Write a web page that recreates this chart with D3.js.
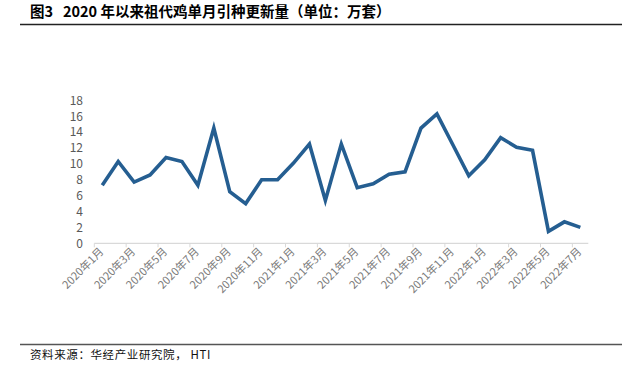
<!DOCTYPE html>
<html>
<head>
<meta charset="utf-8">
<script src="https://cdn.jsdelivr.net/npm/d3@7"></script>
<style>
	body { margin: 0; background: #fff; }
	svg text { font-family: "Noto Sans CJK SC", "Noto Sans", sans-serif; white-space: pre; }
</style>
</head>
<body>
<svg id="chart" width="634" height="375"></svg>
<script>
const years = [2020, 2021, 2022];
const months = [];
years.forEach(y => {
	for (let m = 1; m <= 12; ++m) {
		if (y === 2022 && m > 7) break;
		months.push(`${y}年${m}月`);
	}
});
// 万套
const values = [7.3, 10.3, 7.7, 8.6, 10.8, 10.3, 7.3, 14.5, 6.5, 5.0, 8.0, 8.0, 10.1, 12.5, 5.4,
	12.5, 7.0, 7.5, 8.7, 9.0, 14.5, 16.3, 12.4, 8.5, 10.5, 13.3, 12.1, 11.7, 1.5, 2.7, 2.0];
const yTicks = [0, 2, 4, 6, 8, 10, 12, 14, 16, 18];

const title = '图3   2020 年以来祖代鸡单月引种更新量（单位：万套）';
const source = '资料来源：华经产业研究院， HTI';

function chart() {
	let svg = d3.select('#chart');

	// title and frame lines
	svg.append('text')
		.attr('x', 30).attr('y', 17)
		.attr('font-size', 14.5).attr('font-weight', 'bold').attr('fill', '#000')
		.text(title);
	svg.append('line')
		.attr('x1', 20).attr('x2', 622).attr('y1', 24.5).attr('y2', 24.5)
		.attr('stroke', '#222').attr('stroke-width', 1.3);
	svg.append('line')
		.attr('x1', 20).attr('x2', 622).attr('y1', 344.5).attr('y2', 344.5)
		.attr('stroke', '#555').attr('stroke-width', 1.5);
	svg.append('text')
		.attr('x', 30).attr('y', 359)
		.attr('font-size', 11.5).attr('fill', '#111')
		.attr('letter-spacing', 0.6)
		.text(source);

	let x = d3.scaleBand().domain(months).range([94.3, 588.3]);
	let y = d3.scaleLinear().domain([0, 18]).range([243.3, 100.3]);

	// x axis baseline and ticks every two months
	let xg = svg.append('g');
	xg.append('line')
		.attr('x1', x.range()[0]).attr('x2', x.range()[1])
		.attr('y1', y(0)).attr('y2', y(0))
		.attr('stroke', '#d9d9d9').attr('stroke-width', 1.3);
	let tickMonths = months.filter((d, i) => i % 2 === 0);
	xg.selectAll('line.tick')
		.data(tickMonths)
		.enter().append('line')
			.attr('class', 'tick')
			.attr('x1', d => x(d)).attr('x2', d => x(d))
			.attr('y1', y(0)).attr('y2', y(0) + 4)
			.attr('stroke', '#d9d9d9').attr('stroke-width', 1);
	xg.selectAll('text')
		.data(tickMonths)
		.enter().append('text')
			.attr('transform', d => `translate(${x(d) + x.bandwidth() / 2 + 2},${y(0) + 9}) rotate(-45)`)
			.attr('text-anchor', 'end')
			.attr('font-size', 11).attr('fill', '#7a7a7a')
			.text(d => d);

	// y axis labels only
	svg.append('g')
		.attr('transform', 'translate(83,0)')
		.call(d3.axisLeft(y).tickValues(yTicks).tickSize(0).tickPadding(0))
		.call(g => g.select('.domain').remove())
		.call(g => g.selectAll('text')
			.attr('font-size', 12).attr('fill', '#595959')
			.attr('font-family', '"Open Sans", "Noto Sans", sans-serif'));

	let line = d3.line()
		.x((d, i) => x(months[i]) + x.bandwidth() / 2)
		.y(d => y(d));
	svg.append('path')
		.datum(values)
		.attr('d', line)
		.attr('fill', 'none')
		.attr('stroke', '#255e91')
		.attr('stroke-width', 3.6)
		.attr('stroke-linejoin', 'miter');
}

chart();
</script>
</body>
</html>
